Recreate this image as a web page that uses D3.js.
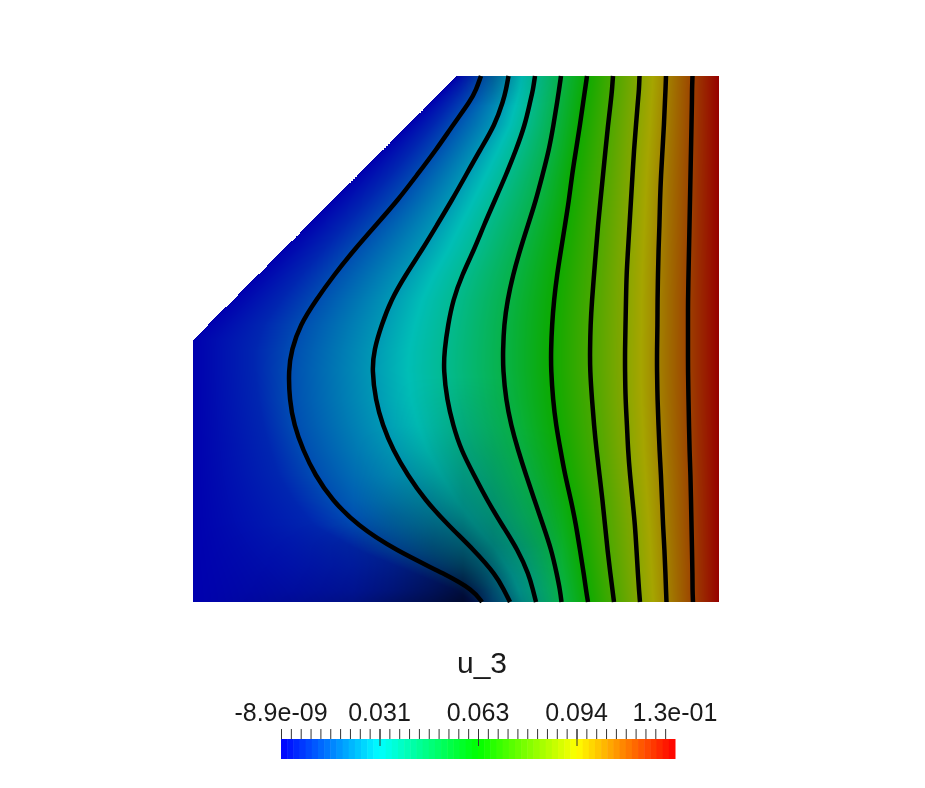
<!DOCTYPE html>
<html>
<head>
<meta charset="utf-8">
<script src="https://cdn.jsdelivr.net/npm/d3@7/dist/d3.min.js"></script>
<style>
  html, body { margin: 0; background: #fff; }
  #wrap { position: relative; width: 925px; height: 788px; overflow: hidden; }
  canvas, svg { position: absolute; left: 0; top: 0; }
  text { font-family: "Liberation Sans", Arial, sans-serif; fill: #1a1a1a; }
</style>
</head>
<body>
<div id="wrap">
  <canvas id="field" width="925" height="788"></canvas>
  <svg id="chart" width="925" height="788"></svg>
</div>
<script>
// rows where the isolines were read, domain units 0..526
const rows = [0,14,24,49,74,99,124,149,174,199,224,249,274,294,324,349,374,399,424,449,474,499,514,526];

// left edge of the domain (chamfer, then straight)
const edgeRows = [0, 264, 526];
const edgeX = [264, 0, 0];
// faint level between edge and first line, not drawn, only used for the colours
const hidden = [277,268,260,240,219,198,175,152,130,108,88,70,62,62,65,70,77,85,100,120,165,225,262,280];

const c1 = [288,283,278,260,243,224,205,183,161,141,123,107,98.5,95.5,96.5,101,110,122,139,164,202,254,280,289];
const c2 = [315.5,313,310.5,302,287,273,259,244,229,212.5,198,188.5,181,179,182.5,189.5,200,214.5,232,255,281,303,311,317];
const c3 = [342,340,337.5,332,323,313,302,291,281,269,260,255,251.5,250.5,254,260,268,281,294,309,325,336,340,343];
const c4 = [368,366,364.5,360.5,356,349.5,343,335,327,320,314.5,311,310,310,313,318,325,333,341.5,350,358.5,364,367,368.5];
const c5 = [394,392,390.5,387,383,379,376,372,368,364,361,359,358,358,360,363,367.5,372,378,383,387,391,393,395];
const c6 = [420,419,418,415,412.5,410,407.5,405,403,401,399,397.5,397,397,399,401,403.5,406.5,409.5,412,414.5,417.5,419.5,421];
const c7 = [446.5,446,445,443,441,439.5,438,436.5,435,433.5,433,432.5,432,432,432.5,434,435,437,439.5,442,443.5,445,446,447];
const c8 = [473,472.5,472,471,469.5,468,467,466.5,465.5,465,464.5,464.5,464,464,464.5,465.5,466.5,468,469,470,471.5,472.5,473,473.5];
const c9 = [499.5,499,499,498.5,498,497.5,497,496.5,496,495.5,495,495,495,495,495.5,496,496.5,497.5,498,498.5,499,499.5,499.5,500];
const rightEdge = rows.map(() => 526);

const contours = [c1, c2, c3, c4, c5, c6, c7, c8, c9];
const levelSets = [hidden, c1, c2, c3, c4, c5, c6, c7, c8, c9, rightEdge];
const levels = [0, 0.05, 0.1, 0.2, 0.3, 0.4, 0.5, 0.6, 0.7, 0.8, 0.9, 1];

// shading of the surface (dark patch near the bottom), read by eye
const shadeX = [0, 100, 160, 200, 240, 270, 300, 330, 370, 526];
const shadeY = [0, 30, 300, 350, 400, 440, 470, 490, 514, 526];
const shade = [
  [1, 1, 1, 1, 1, 0.95, 0.85, 0.95, 1, 1],
  [1, 1, 1, 1, 1, 1, 1, 1, 1, 1],
  [1, 1, 1, 1, 1, 1, 1, 1, 1, 1],
  [1, 1, 1, 1, 0.95, 0.92, 0.95, 1, 1, 1],
  [1, 1, 1, 0.95, 0.85, 0.8, 0.85, 0.95, 1, 1],
  [1, 1, 1, 0.85, 0.75, 0.7, 0.75, 0.88, 1, 1],
  [1, 0.97, 0.9, 0.8, 0.65, 0.6, 0.65, 0.8, 1, 1],
  [1, 0.95, 0.88, 0.76, 0.6, 0.5, 0.62, 0.78, 1, 1],
  [1, 0.9, 0.82, 0.68, 0.5, 0.35, 0.6, 0.75, 1, 1],
  [1, 0.85, 0.75, 0.58, 0.42, 0.27, 0.6, 0.7, 1, 1]
];

// surface colours and the brighter legend colours
const surfaceColors = ["rgb(0,0,175)", "rgb(0,190,182)", "rgb(12,170,0)", "rgb(165,165,0)", "rgb(150,0,0)"];
const legendColors = ["rgb(0,0,255)", "rgb(0,255,255)", "rgb(0,255,0)", "rgb(255,255,0)", "rgb(255,0,0)"];
const colorStops = [0, 0.25, 0.5, 0.75, 1];

// legend
const valueMax = 0.126;
const minorStep = 0.00315;
const minorCount = 40;
const legendBands = 64;
const majorTicks = [0.0315, 0.063, 0.0945];
const labelValues = [0, 0.0315, 0.063, 0.0945, 0.126];
const labelTexts = ["-8.9e-09", "0.031", "0.063", "0.094", "1.3e-01"];
const titleText = "u_3";

const x = d3.scaleLinear().domain([0, 526]).range([193, 719]);
const y = d3.scaleLinear().domain([0, 526]).range([76, 602]);

// rainbow for the surface
const surfaceScale = d3.scaleLinear().domain(colorStops).range(surfaceColors).interpolate(d3.interpolateRgb).clamp(true);
const legendScale = d3.scaleLinear().domain(colorStops).range(legendColors).interpolate(d3.interpolateRgb);

// shade lookup
const sxIndex = d3.scaleLinear().domain(shadeX).range(d3.range(shadeX.length)).clamp(true);
const syIndex = d3.scaleLinear().domain(shadeY).range(d3.range(shadeY.length)).clamp(true);
function shadeAt(px, py) {
  const fx = sxIndex(px), fy = syIndex(py);
  const i = Math.min(Math.floor(fx), shadeX.length - 2), j = Math.min(Math.floor(fy), shadeY.length - 2);
  const tx = fx - i, ty = fy - j;
  const top = shade[j][i] * (1 - tx) + shade[j][i + 1] * tx;
  const bot = shade[j + 1][i] * (1 - tx) + shade[j + 1][i + 1] * tx;
  return top * (1 - ty) + bot * ty;
}

// paint the field row by row
const edgeScale = d3.scaleLinear().domain(edgeRows).range(edgeX);
const setScales = levelSets.map(s => d3.scaleLinear().domain(rows).range(s));
const ctx = document.getElementById("field").getContext("2d");
const x0 = Math.round(x(0)), y0 = Math.round(y(0));
const w = Math.round(x(526)) - x0, h = Math.round(y(526)) - y0;
const img = ctx.createImageData(w, h);
for (let j = 0; j < h; j++) {
  const r = y.invert(y0 + j + 0.5);
  const xs = [edgeScale(r)].concat(setScales.map(s => s(r)));
  const val = d3.scaleLinear().domain(xs).range(levels).clamp(true);
  for (let i = 0; i < w; i++) {
    const u = x.invert(x0 + i + 0.5);
    if (u < xs[0]) continue;
    const c = d3.rgb(surfaceScale(val(u)));
    const f = shadeAt(u, r);
    const p = (j * w + i) * 4;
    img.data[p] = c.r * f;
    img.data[p + 1] = c.g * f;
    img.data[p + 2] = c.b * f;
    img.data[p + 3] = 255;
  }
}
ctx.putImageData(img, x0, y0);

const svg = d3.select("#chart");

// isolines
const line = d3.line()
  .x(d => x(d[0]))
  .y(d => y(d[1]))
  .curve(d3.curveBasis);

svg.selectAll("path.iso")
  .data(contours)
  .enter().append("path")
    .attr("class", "iso")
    .attr("d", c => line(c.map((v, i) => [v, rows[i]])))
    .attr("fill", "none")
    .attr("stroke", "#000")
    .attr("stroke-width", 4.5);

// colour bar
const lx = d3.scaleLinear().domain([0, valueMax]).range([281, 675]);
const bandW = valueMax / legendBands;

svg.selectAll("rect.band")
  .data(d3.range(legendBands))
  .enter().append("rect")
    .attr("class", "band")
    .attr("x", d => lx(d * bandW))
    .attr("y", 739)
    .attr("width", lx(bandW) - lx(0) + 0.5)
    .attr("height", 20)
    .attr("fill", d => legendScale((d + 0.5) / legendBands));

// ticks
const minorTicks = d3.range(minorCount).map(k => k * minorStep);
const axisMinor = svg.append("g")
  .attr("transform", "translate(0,739)")
  .call(d3.axisTop(lx).tickValues(minorTicks).tickSize(10).tickFormat(""));
axisMinor.select(".domain").remove();
axisMinor.selectAll("line").attr("stroke", "#333");

const axisMajor = svg.append("g")
  .attr("transform", "translate(0,746)")
  .call(d3.axisTop(lx).tickValues(majorTicks).tickSize(17).tickFormat(""));
axisMajor.select(".domain").remove();
axisMajor.selectAll("line").attr("stroke", "#333");

// labels
svg.selectAll("text.label")
  .data(labelValues)
  .enter().append("text")
    .attr("class", "label")
    .attr("x", d => lx(d))
    .attr("y", 721)
    .attr("text-anchor", "middle")
    .style("font-size", "25px")
    .text((d, i) => labelTexts[i]);

svg.append("text")
  .attr("x", 482)
  .attr("y", 673)
  .attr("text-anchor", "middle")
  .style("font-size", "30px")
  .text(titleText);
</script>
</body>
</html>
